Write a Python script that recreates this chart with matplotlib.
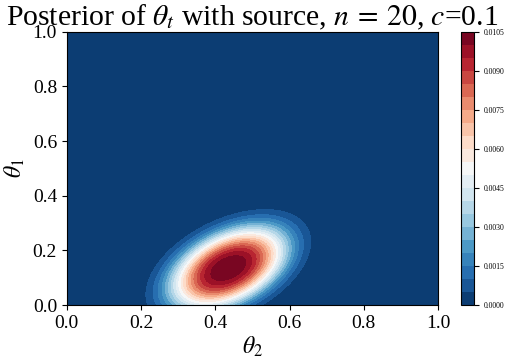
import numpy as np
import matplotlib.pyplot as plt

plt.rcParams['font.family'] = ['Liberation Serif', 'DejaVu Serif']
plt.rcParams['mathtext.fontset'] = 'stix'

# posterior summary (peak location, spread, height, shape)
peak_theta2 = 0.435
peak_theta1 = 0.135
sd_theta2 = 0.09
sd_theta1 = 0.087
corr = 0.45
shape = 1.4
peak_density = 0.0104
levels = np.arange(0, 0.0106, 0.0005)
cbar_ticks = [0.0, 0.0015, 0.0030, 0.0045, 0.0060, 0.0075, 0.0090, 0.0105]

t2 = np.linspace(0, 1, 200)
t1 = np.linspace(0, 1, 200)
X, Y = np.meshgrid(t2, t1)
dx = (X - peak_theta2) / sd_theta2
dy = (Y - peak_theta1) / sd_theta1
q = (dx**2 - 2 * corr * dx * dy + dy**2) / (1 - corr**2)
scale = 0.5 * 6.09 / 6.09**shape
Z = peak_density * np.exp(-scale * q**shape)

fig = plt.figure(figsize=(5.1, 3.58), dpi=100)
ax = fig.add_axes([0.131, 0.148, 0.728, 0.763])
cax = fig.add_axes([0.904, 0.148, 0.026, 0.763])

cs = ax.contourf(X, Y, Z, levels=levels, cmap='RdBu_r')
ax.set_xlim(0, 1)
ax.set_ylim(0, 1)
ax.set_xlabel(r'$\theta_2$', fontsize=17, labelpad=2)
ax.set_ylabel(r'$\theta_1$', fontsize=17, labelpad=4)
ax.set_title(r'Posterior of $\theta_t$ with source, $n\:=\:20$, $c$=0.1', fontsize=21.3, pad=4)
ax.tick_params(labelsize=14)
ax.set_xticks([0, 0.2, 0.4, 0.6, 0.8, 1.0])
ax.set_yticks([0, 0.2, 0.4, 0.6, 0.8, 1.0])

cb = fig.colorbar(cs, cax=cax, ticks=cbar_ticks)
cb.ax.set_yticklabels([f'{v:.4f}' for v in cbar_ticks])
cb.ax.tick_params(labelsize=5.5)

fig.savefig('out.png', dpi=100)
